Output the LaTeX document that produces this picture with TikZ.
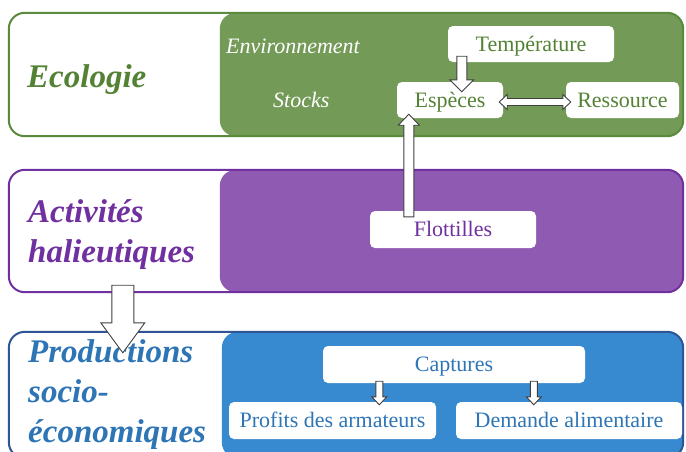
\documentclass[tikz,border=0pt]{standalone}
\usepackage{fontspec}
\setmainfont{Liberation Serif}
\usetikzlibrary{calc}
\definecolor{ecoB}{HTML}{5A8A3C}
\definecolor{ecoF}{HTML}{739A57}
\definecolor{ecoT}{HTML}{548235}
\definecolor{actB}{HTML}{7030A0}
\definecolor{actF}{HTML}{8E5AB2}
\definecolor{prodB}{HTML}{2F5597}
\definecolor{prodF}{HTML}{378ACF}
\definecolor{prodT}{HTML}{2E75B6}
\definecolor{arrG}{HTML}{404040}
\tikzset{
  outerbox/.style={rectangle, rounded corners=16pt, inner sep=0pt, minimum width=674pt, fill=white},
  wbox/.style={rectangle, fill=white, rounded corners=5pt, inner sep=0pt, text height=15pt, text depth=1pt, font=\fontsize{22}{26}\selectfont},
  titletext/.style={font=\fontsize{33}{40}\selectfont\bfseries\itshape, anchor=base west, inner sep=0pt},
  sidetext/.style={font=\fontsize{22}{26}\selectfont\itshape, text=white, anchor=base west, inner sep=0pt},
  hollow/.style={draw=arrG, fill=white, line width=0.9pt, line join=miter},
  border/.style={line width=2pt, rounded corners=16pt},
}
\newcommand{\vharr}[5]{\draw[hollow] let \p1=(#1), \p2=(#2) in
  ({\x1-#3},\y1) -- ({\x1-#3},{\y2+#5}) -- ({\x1-#4},{\y2+#5}) -- (\x1,\y2) --
  ({\x1+#4},{\y2+#5}) -- ({\x1+#3},{\y2+#5}) -- ({\x1+#3},\y1) -- cycle;}
\newcommand{\hdarr}[5]{\draw[hollow] let \p1=(#1), \p2=(#2) in
  (\x1,\y1) -- ({\x1+#5},{\y1+#4}) -- ({\x1+#5},{\y1+#3}) -- ({\x2-#5},{\y1+#3}) --
  ({\x2-#5},{\y1+#4}) -- (\x2,\y1) -- ({\x2-#5},{\y1-#4}) -- ({\x2-#5},{\y1-#3}) --
  ({\x1+#5},{\y1-#3}) -- ({\x1+#5},{\y1-#4}) -- cycle;}
\begin{document}
\begin{tikzpicture}[x=1pt,y=-1pt]
\useasboundingbox (0,0) rectangle (686,451);
\clip (0,0) rectangle (686,451);
\fill[white] (0,0) rectangle (686,451);

% Ecologie
\node[outerbox, minimum height=123pt] (eco) at (346,74.5) {};
\fill[ecoF, rounded corners=16pt] ($(eco.north west)+(211,0)$) rectangle (eco.south east);
\draw[border, ecoB] (eco.north west) rectangle (eco.south east);
\node[titletext, text=ecoT] (ecot) at (27,87) {Ecologie};
\node[sidetext] (env) at (226,53) {Environnement};
\node[sidetext] (sto) at (273,107) {Stocks};
\node[wbox, text=ecoT, minimum width=166pt, minimum height=36pt] (temp) at (531,44) {Température};
\node[wbox, text=ecoT, minimum width=106pt, minimum height=36pt] (esp) at (450,100) {Espèces};
\node[wbox, text=ecoT, minimum width=113pt, minimum height=36pt] (res) at (622.5,100) {Ressource};

% Activites
\node[outerbox, minimum height=122pt] (act) at (346,231) {};
\fill[actF, rounded corners=16pt] ($(act.north west)+(211,0)$) rectangle (act.south east);
\draw[border, actB] (act.north west) rectangle (act.south east);
\node[titletext, text=actB] (actt1) at (28,222) {Activités};
\node[titletext, text=actB] (actt2) at (28,262) {halieutiques};
\node[wbox, text=actB, minimum width=166pt, minimum height=37pt] (flot) at (453,229.5) {Flottilles};

% Productions
\node[outerbox, minimum height=126pt] (prod) at (346,395) {};
\fill[prodF, rounded corners=16pt] ($(prod.north west)+(213,0)$) rectangle (prod.south east);
\draw[border, prodB] (prod.north west) rectangle (prod.south east);
\node[titletext, text=prodT] (prt1) at (28,362) {Productions};
\node[titletext, text=prodT] (prt2) at (28,402) {socio-};
\node[titletext, text=prodT] (prt3) at (28,442) {économiques};
\node[wbox, text=prodT, minimum width=262pt, minimum height=37pt] (capt) at (454,364.5) {Captures};
\node[wbox, text=prodT, minimum width=207pt, minimum height=37pt] (prof) at (332.5,420.5) {Profits des armateurs};
\node[wbox, text=prodT, minimum width=226pt, minimum height=37pt] (dem) at (569,420.5) {Demande alimentaire};

% arrow end points
\coordinate (a1s) at ($(temp.south west)+(14,-6)$);
\coordinate (a1t) at ($(esp.north west)+(65,10)$);
\coordinate (a2l) at ($(esp.east)+(-4,2)$);
\coordinate (a2r) at ($(res.west)+(5,2)$);
\coordinate (a3s) at ($(flot.north west)+(39,6)$);
\coordinate (a3t) at ($(esp.south west)+(12,-4)$);
\coordinate (a4s) at ($(act.south west)+(114,-7)$);
\coordinate (a4t) at ($(prod.north west)+(114,21)$);
\coordinate (a5s) at ($(capt.south west)+(56.5,-2)$);
\coordinate (a5t) at ($(prof.north west)+(150.5,3)$);
\coordinate (a6s) at ($(capt.south west)+(211,-2)$);
\coordinate (a6t) at ($(dem.north west)+(78,3)$);

\vharr{a1s}{a1t}{5pt}{12pt}{12pt}
\hdarr{a2l}{a2r}{3.5pt}{7.5pt}{8pt}
\vharr{a3s}{a3t}{5pt}{10.5pt}{-11pt}
\vharr{a4s}{a4t}{11pt}{22pt}{30pt}
\vharr{a5s}{a5t}{3.5pt}{7.5pt}{8pt}
\vharr{a6s}{a6t}{3.5pt}{7.5pt}{8pt}
\end{tikzpicture}
\end{document}
